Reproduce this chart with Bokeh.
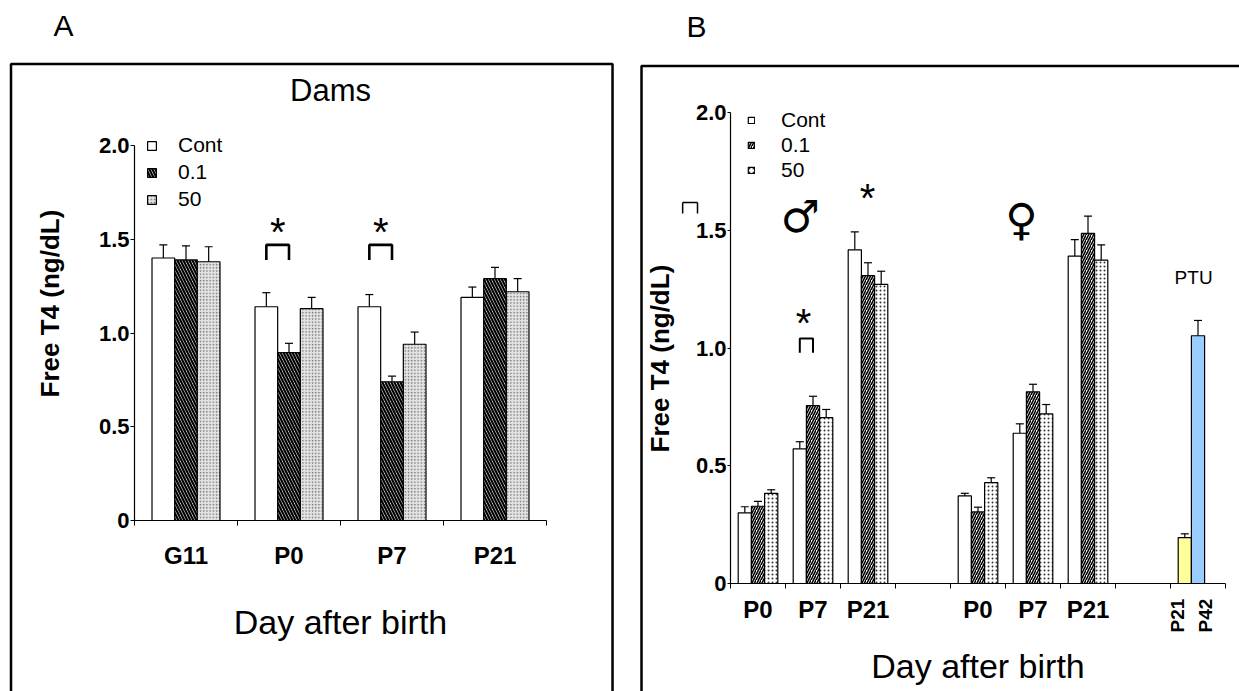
from bokeh.plotting import figure
from bokeh.layouts import row
from bokeh.models import (ColumnDataSource, FixedTicker, Legend, LegendItem, Label,
                          PolyAnnotation, Whisker, TeeHead, Arrow)
from bokeh.core.properties import value
from bokeh.embed import file_html
from bokeh.resources import INLINE
import math

FONT = "Liberation Sans"

# ---------------- data ----------------
# Panel A: dams
days_A = ["G11", "P0", "P7", "P21"]
cont_A = [1.40, 1.14, 1.14, 1.19]
cont_A_sem = [0.07, 0.075, 0.065, 0.055]
low_A = [1.39, 0.895, 0.74, 1.29]
low_A_sem = [0.075, 0.05, 0.03, 0.06]
high_A = [1.38, 1.13, 0.94, 1.22]
high_A_sem = [0.08, 0.06, 0.065, 0.07]

# Panel B: pups (male, female) and PTU
days_B = ["P0", "P7", "P21"]
male_cont = [0.30, 0.572, 1.417]
male_cont_sem = [0.026, 0.03, 0.076]
male_low = [0.328, 0.755, 1.307]
male_low_sem = [0.021, 0.04, 0.055]
male_high = [0.383, 0.704, 1.27]
male_high_sem = [0.015, 0.035, 0.056]
fem_cont = [0.372, 0.638, 1.39]
fem_cont_sem = [0.011, 0.04, 0.07]
fem_low = [0.304, 0.814, 1.487]
fem_low_sem = [0.02, 0.032, 0.073]
fem_high = [0.428, 0.72, 1.373]
fem_high_sem = [0.021, 0.04, 0.065]
ptu_days = ["P21", "P42"]
ptu_vals = [0.195, 1.052]
ptu_sem = [0.016, 0.065]

series_names = ["Cont", "0.1", "50"]
ptu_colors = ["#FFFF99", "#99CCFF"]
y_ticks = [0, 0.5, 1.0, 1.5, 2.0]
y_tick_labels = ["0", "0.5", "1.0", "1.5", "2.0"]
y_title = "Free T4 (ng/dL)"
x_title = "Day after birth"


def base_fig(width, height, xr, yr):
    p = figure(width=width, height=height, x_range=xr, y_range=yr,
               output_backend="svg", toolbar_location=None,
               min_border=0, min_border_left=0, min_border_right=0,
               min_border_top=0, min_border_bottom=0)
    p.xgrid.visible = False
    p.ygrid.visible = False
    p.outline_line_color = None
    p.background_fill_color = "white"
    p.border_fill_color = "white"
    for ax in (p.xaxis[0], p.yaxis[0]):
        ax.fixed_location = 0
        ax.axis_line_color = "black"
        ax.axis_line_width = 1.2
        ax.major_tick_line_color = "black"
        ax.minor_tick_line_color = "black"
        ax.major_label_text_font = FONT
        ax.major_label_text_font_style = "bold"
        ax.major_label_text_color = "black"
        ax.axis_label_text_font = FONT
        ax.axis_label_text_color = "black"
    ya = p.yaxis[0]
    ya.bounds = (0, 2.0)
    ya.ticker = FixedTicker(ticks=y_ticks, minor_ticks=[])
    ya.major_label_overrides = {t: s for t, s in zip(y_ticks, y_tick_labels)}
    ya.major_tick_in = 0
    ya.major_label_standoff = 1
    ya.major_label_text_font_size = "22px"
    return p


def add_bars(p, centers, vals, sems, width, style):
    src = ColumnDataSource(dict(x=centers, top=vals,
                                up=[v + s for v, s in zip(vals, sems)]))
    r = p.vbar(x="x", top="top", bottom=0, width=width, source=src,
               line_color="black", line_width=1.2, **style)
    w = Whisker(base="x", lower="top", upper="up", dimension="height", source=src,
                line_color="black", line_width=1.2,
                upper_head=TeeHead(size=8, line_color="black", line_width=1.2),
                lower_head=None)
    p.add_layout(w)
    return r


def style_xaxis(ax, n, centers, labels, lab_standoff, title_standoff):
    ax.bounds = (0, n)
    ax.ticker = FixedTicker(ticks=centers, minor_ticks=list(range(n + 1)))
    ax.major_label_overrides = {c: l for c, l in zip(centers, labels)}
    ax.major_tick_out = 0
    ax.major_tick_in = 0
    ax.minor_tick_out = 5
    ax.minor_tick_in = 0
    ax.major_label_text_font_size = "24px"
    ax.major_label_standoff = lab_standoff
    ax.axis_label = x_title
    ax.axis_label_text_font_size = "34px"
    ax.axis_label_text_font_style = "normal"
    ax.axis_label_standoff = title_standoff


def y_title_label(p, x, y):
    p.add_layout(Label(x=x, y=y, text=y_title, angle=math.pi / 2, text_align="center",
                       text_baseline="middle", text_font=FONT, text_font_size="26px",
                       text_font_style="bold", text_color="black"))


def make_legend(p, renderers, loc, glyph, standoff, spacing):
    leg = Legend(items=[LegendItem(label=n, renderers=[r]) for n, r in zip(series_names, renderers)],
                 location=loc, orientation="vertical", glyph_width=glyph, glyph_height=glyph,
                 label_standoff=standoff, spacing=spacing, padding=0, margin=0,
                 border_line_color=None, background_fill_alpha=0,
                 label_text_font=FONT, label_text_font_size="21px", label_text_color="black",
                 label_height=20)
    p.add_layout(leg)


# ---------------- Panel A ----------------
# canvas 626 x 691; data origin at pixel (134, 520); 103 px per group, 187.5 px per unit
nA = len(days_A)
pA = base_fig(626, 691, (-134 / 103, 492 / 103), (-171 / 187.5, 520 / 187.5))
offA = [-0.22, 0.0, 0.22]
wA = 0.22
stylesA = [
    dict(fill_color="white"),
    dict(fill_color="white", hatch_pattern="left_diagonal_line", hatch_color="black",
         hatch_scale=6, hatch_weight=2.2),
    dict(fill_color="#e4e4e4", hatch_pattern="dot", hatch_color="#707070",
         hatch_scale=3.2, hatch_weight=1),
]
rendA = []
for k, (vals, sems) in enumerate([(cont_A, cont_A_sem), (low_A, low_A_sem), (high_A, high_A_sem)]):
    cx = [i + 0.5 + offA[k] for i in range(nA)]
    rendA.append(add_bars(pA, cx, vals, sems, wA, stylesA[k]))

style_xaxis(pA.xaxis[0], nA, [i + 0.5 for i in range(nA)], days_A, 16, 31)
pA.yaxis[0].major_tick_out = 4
y_title_label(pA, -0.825, 1.157)
make_legend(pA, rendA, (146, 480), 11, 21, 3)

# significance brackets (Cont vs 0.1) at P0 and P7
brA_idx = [1, 2]
brA_lo, brA_hi = 1.39, 1.47
pA.multi_line(xs=[[i + 0.5 + offA[0], i + 0.5 + offA[0], i + 0.5 + offA[1], i + 0.5 + offA[1]] for i in brA_idx],
              ys=[[brA_lo, brA_hi, brA_hi, brA_lo] for _ in brA_idx],
              line_color="black", line_width=2.6)
pA.text(x=[i + 0.5 + (offA[0] + offA[1]) / 2 for i in brA_idx], y=[1.54] * len(brA_idx),
        text=["*"] * len(brA_idx), text_align="center", text_baseline="middle",
        text_font=value(FONT), text_font_size="40px", text_color="black")

# frame box, panel letter, title
pA.add_layout(PolyAnnotation(xs=[-1.199, 4.641, 4.641, -1.199], ys=[2.435, 2.435, -1.2, -1.2],
                             fill_alpha=0, line_color="black", line_alpha=1, line_width=2.5))
pA.add_layout(Label(x=-0.689, y=2.64, text="A", text_align="center", text_baseline="middle",
                    text_font=FONT, text_font_size="30px", text_color="black"))
pA.add_layout(Label(x=1.903, y=2.293, text="Dams", text_align="center", text_baseline="middle",
                    text_font=FONT, text_font_size="31px", text_color="black"))

# ---------------- Panel B ----------------
# canvas 613 x 691; data origin at pixel (104, 583); 55 px per slot, 235.5 px per unit
nB = 9
pB = base_fig(613, 691, (-104 / 55, 509 / 55), (-108 / 235.5, 583 / 235.5))
offB = [-0.24, 0.0, 0.24]
wB = 0.24
male_slots = [0, 1, 2]
fem_slots = [4, 5, 6]
ptu_slot = 8
stylesB = [
    dict(fill_color="white"),
    dict(fill_color="white", hatch_pattern="right_diagonal_line", hatch_color="black",
         hatch_scale=5, hatch_weight=1.6),
    dict(fill_color="white", hatch_pattern="dot", hatch_color="#333333",
         hatch_scale=4, hatch_weight=1),
]
rendB = []
for k, (mv, ms, fv, fs) in enumerate([(male_cont, male_cont_sem, fem_cont, fem_cont_sem),
                                      (male_low, male_low_sem, fem_low, fem_low_sem),
                                      (male_high, male_high_sem, fem_high, fem_high_sem)]):
    cx = [s + 0.5 + offB[k] for s in male_slots + fem_slots]
    rendB.append(add_bars(pB, cx, mv + fv, ms + fs, wB, stylesB[k]))

ptu_x = [ptu_slot + 0.5 + offB[k] for k in range(len(ptu_vals))]
for k in range(len(ptu_vals)):
    add_bars(pB, [ptu_x[k]], [ptu_vals[k]], [ptu_sem[k]], wB, dict(fill_color=ptu_colors[k]))

lab_slots = male_slots + fem_slots
style_xaxis(pB.xaxis[0], nB, [s + 0.5 for s in lab_slots], days_B + days_B, 7, 21)
pB.yaxis[0].major_tick_out = 3
y_title_label(pB, -1.273, 0.955)
make_legend(pB, rendB, (121, 509), 8, 26, 1)

# rotated PTU day labels
for xx, d in zip([ptu_x[0] - 0.133, ptu_x[1] + 0.136], ptu_days):
    pB.add_layout(Label(x=xx, y=-0.136, text=d, angle=math.pi / 2, text_align="center",
                        text_baseline="middle", text_font=FONT, text_font_size="19px",
                        text_font_style="bold", text_color="black"))

# bracket + stars + sex symbols
brB_slot = 1
pB.multi_line(xs=[[brB_slot + 0.5 + offB[0], brB_slot + 0.5 + offB[0], brB_slot + 0.5 + offB[1], brB_slot + 0.5 + offB[1]]],
              ys=[[0.98, 1.04, 1.04, 0.98]], line_color="black", line_width=2)
pB.text(x=[1.33, 2.49], y=[1.108, 1.635], text=["*", "*"], text_align="center",
        text_baseline="middle", text_font=value(FONT), text_font_size="40px", text_color="black")
pB.text(x=[1.27, 5.29], y=[1.56, 1.545], text=["\u2642", "\u2640"], text_align="center",
        text_baseline="middle", text_font=value("DejaVu Sans"), text_font_size="44px",
        text_color="black")
pB.text(x=[8.42], y=[1.30], text=["PTU"], text_align="center", text_baseline="middle",
        text_font=value(FONT), text_font_size="19px", text_color="black")

# small stray bracket left of the axis
for (x0, y0, x1, y1) in [(-0.87, 1.571, -0.87, 1.618), (-0.87, 1.618, -0.6, 1.618), (-0.6, 1.618, -0.6, 1.571)]:
    pB.add_layout(Arrow(x_start=x0, y_start=y0, x_end=x1, y_end=y1, start=None, end=None,
                        line_color="black", line_width=1.5))

pB.add_layout(PolyAnnotation(xs=[-1.618, 9.5, 9.5, -1.618], ys=[2.197, 2.197, -0.7, -0.7],
                             fill_alpha=0, line_color="black", line_alpha=1, line_width=2.5))
pB.add_layout(Label(x=-0.618, y=2.365, text="B", text_align="center", text_baseline="middle",
                    text_font=FONT, text_font_size="30px", text_color="black"))

layout = row(pA, pB, spacing=0)
open("out.html", "w").write(file_html(layout, INLINE))
